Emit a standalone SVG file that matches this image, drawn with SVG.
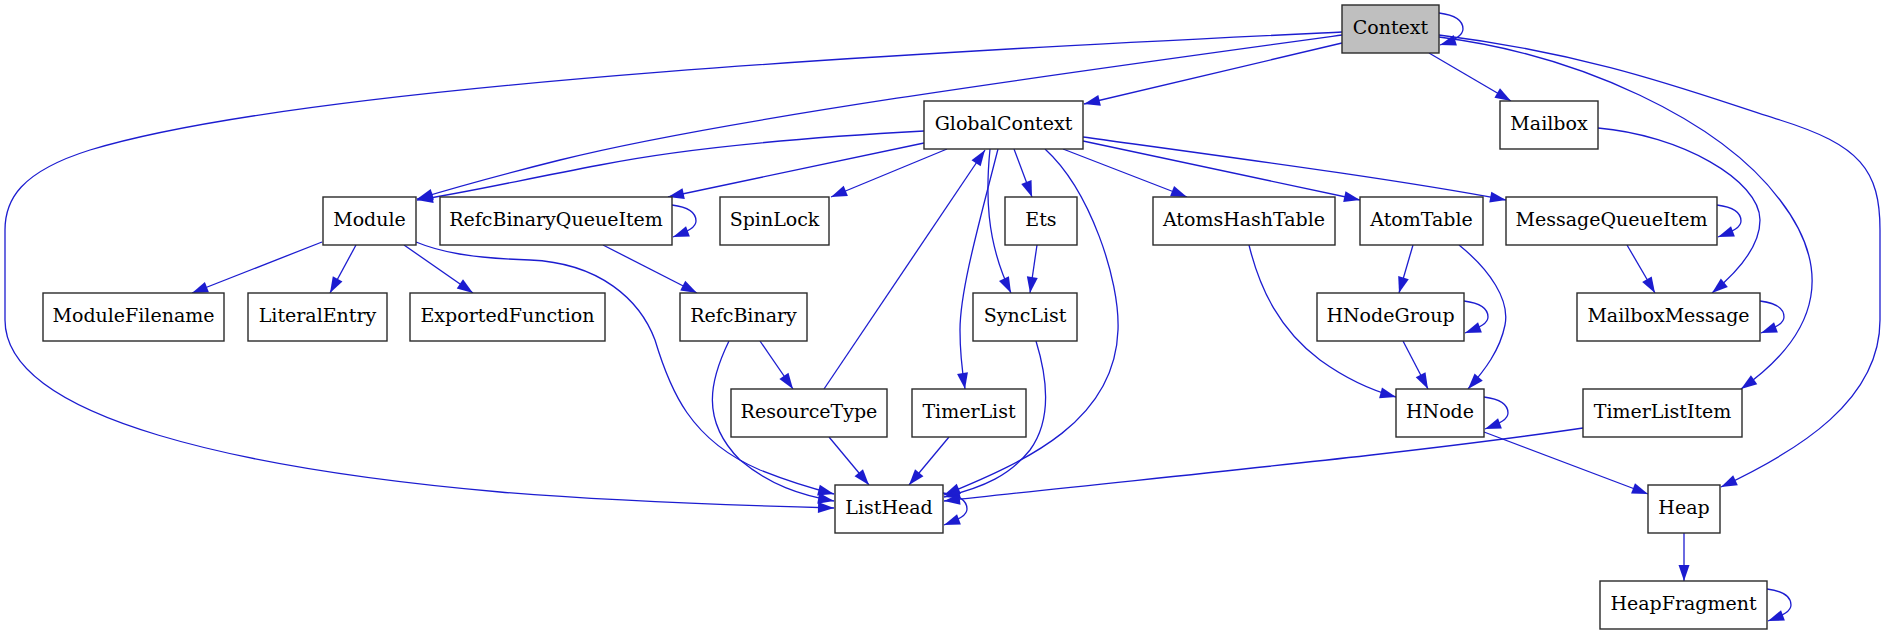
<svg xmlns="http://www.w3.org/2000/svg" width="1885" height="635" viewBox="0 0 1885 635">
<style>
.n rect{fill:#ffffff;stroke:#2a2a2a;stroke-width:1.4}
.n.root rect{fill:#bfbfbf}
.n text{font-family:"DejaVu Serif","Liberation Serif",serif;font-size:19px;fill:#000;text-anchor:middle}
#edges path{fill:none;stroke:#1c1cd0;stroke-width:1.3;marker-end:url(#ah)}
</style>
<defs>
<marker id="ah" markerUnits="userSpaceOnUse" markerWidth="17" markerHeight="12" refX="16" refY="5.5" orient="auto" overflow="visible">
<path d="M0,0 L16,5.5 L0,11 z" fill="#1c1cd0"/>
</marker>
</defs>
<rect width="1885" height="635" fill="#ffffff"/>
<g id="edges">
<!-- Context -->
<path d="M1439,13 C1455,15 1463,21 1463,29 C1463,35 1456,40 1440,45"/>
<path d="M1342,43 L1084,104"/>
<path d="M1342,35 C1050,75 720,120 560,160 C500,175 460,186 417,199"/>
<path d="M1342,32 C1010,48 320,80 90,150 C20,172 5,200 5,230 L5,320 C5,420 250,470 500,492 C620,502 760,506 834,508"/>
<path d="M1429,53 L1511,101"/>
<path d="M1439,37 C1580,55 1720,120 1780,200 C1830,265 1825,330 1741,389"/>
<path d="M1439,35 C1600,55 1700,95 1780,120 C1860,145 1880,170 1880,230 L1880,320 C1880,400 1800,450 1721,487"/>
<!-- GlobalContext -->
<path d="M924,131 C850,135 700,145 600,165 C520,180 470,192 417,200"/>
<path d="M924,143 L668,197"/>
<path d="M947,149 L831,197"/>
<path d="M1014,149 L1032,197"/>
<path d="M990,149 C986,190 985,240 1011,293"/>
<path d="M998,149 C980,220 960,290 960,330 C960,350 962,370 965,389"/>
<path d="M1045,149 C1090,190 1120,280 1118,330 C1115,420 1030,460 944,495"/>
<path d="M1063,149 L1187,197"/>
<path d="M1083,141 L1360,200"/>
<path d="M1083,137 C1250,160 1400,180 1506,200"/>
<!-- Module -->
<path d="M322,242 L192,293"/>
<path d="M356,245 L330,293"/>
<path d="M404,245 L473,293"/>
<path d="M416,242 C440,252 470,258 530,260 C600,263 640,300 655,340 C670,390 690,440 760,470 C790,482 810,488 834,494"/>
<!-- RefcBinaryQueueItem -->
<path d="M672,205 C688,207 696,213 696,221 C696,227 689,231 673,237"/>
<path d="M603,245 L697,293"/>
<!-- RefcBinary -->
<path d="M760,341 L793,389"/>
<path d="M729,341 C710,380 700,420 740,460 C770,485 800,495 834,501"/>
<!-- ResourceType -->
<path d="M829,437 L869,485"/>
<path d="M824,389 L985,150"/>
<!-- TimerList -->
<path d="M949,437 L909,485"/>
<!-- Ets / SyncList -->
<path d="M1037,245 L1030,293"/>
<path d="M1036,341 C1048,380 1052,420 1030,450 C1010,475 985,487 944,497"/>
<!-- ListHead self -->
<path d="M943,493 C959,495 967,501 967,509 C967,515 960,519 944,525"/>
<!-- TimerListItem -->
<path d="M1583,428 C1400,455 1150,478 944,501"/>
<!-- Mailbox / MessageQueueItem / MailboxMessage -->
<path d="M1598,128 C1680,135 1760,180 1760,220 C1760,245 1740,270 1712,293"/>
<path d="M1717,205 C1733,207 1741,213 1741,221 C1741,227 1734,231 1718,237"/>
<path d="M1627,245 L1655,293"/>
<path d="M1760,301 C1776,303 1784,309 1784,317 C1784,323 1777,327 1761,333"/>
<!-- AtomsHashTable / AtomTable / HNodeGroup / HNode -->
<path d="M1249,245 C1260,290 1280,330 1320,360 C1345,378 1370,390 1396,397"/>
<path d="M1413,245 L1399,293"/>
<path d="M1459,245 C1490,270 1510,300 1505,325 C1500,350 1485,370 1468,389"/>
<path d="M1464,301 C1480,303 1488,309 1488,317 C1488,323 1481,327 1465,333"/>
<path d="M1403,341 L1428,389"/>
<path d="M1484,397 C1500,399 1508,405 1508,413 C1508,419 1501,423 1485,429"/>
<path d="M1484,432 L1648,494"/>
<!-- Heap -->
<path d="M1684,533 L1684,581"/>
<path d="M1767,589 C1783,591 1791,597 1791,605 C1791,611 1784,615 1768,621"/>
</g>
<g id="Context" class="n root"><rect x="1342" y="5" width="97" height="48"/><text x="1390.5" y="34">Context</text></g>
<g id="GlobalContext" class="n"><rect x="924" y="101" width="159" height="48"/><text x="1003.5" y="130">GlobalContext</text></g>
<g id="Mailbox" class="n"><rect x="1500" y="101" width="98" height="48"/><text x="1549" y="130">Mailbox</text></g>
<g id="Module" class="n"><rect x="323" y="197" width="93" height="48"/><text x="369.5" y="226">Module</text></g>
<g id="RefcBinaryQueueItem" class="n"><rect x="440" y="197" width="232" height="48"/><text x="556" y="226">RefcBinaryQueueItem</text></g>
<g id="SpinLock" class="n"><rect x="720" y="197" width="109" height="48"/><text x="774.5" y="226">SpinLock</text></g>
<g id="Ets" class="n"><rect x="1005" y="197" width="72" height="48"/><text x="1041" y="226">Ets</text></g>
<g id="AtomsHashTable" class="n"><rect x="1153" y="197" width="182" height="48"/><text x="1244" y="226">AtomsHashTable</text></g>
<g id="AtomTable" class="n"><rect x="1360" y="197" width="123" height="48"/><text x="1421.5" y="226">AtomTable</text></g>
<g id="MessageQueueItem" class="n"><rect x="1506" y="197" width="211" height="48"/><text x="1611.5" y="226">MessageQueueItem</text></g>
<g id="ModuleFilename" class="n"><rect x="43" y="293" width="181" height="48"/><text x="133.5" y="322">ModuleFilename</text></g>
<g id="LiteralEntry" class="n"><rect x="248" y="293" width="139" height="48"/><text x="317.5" y="322">LiteralEntry</text></g>
<g id="ExportedFunction" class="n"><rect x="410" y="293" width="195" height="48"/><text x="507.5" y="322">ExportedFunction</text></g>
<g id="RefcBinary" class="n"><rect x="680" y="293" width="127" height="48"/><text x="743.5" y="322">RefcBinary</text></g>
<g id="SyncList" class="n"><rect x="973" y="293" width="104" height="48"/><text x="1025" y="322">SyncList</text></g>
<g id="HNodeGroup" class="n"><rect x="1317" y="293" width="147" height="48"/><text x="1390.5" y="322">HNodeGroup</text></g>
<g id="MailboxMessage" class="n"><rect x="1577" y="293" width="183" height="48"/><text x="1668.5" y="322">MailboxMessage</text></g>
<g id="ResourceType" class="n"><rect x="731" y="389" width="156" height="48"/><text x="809" y="418">ResourceType</text></g>
<g id="TimerList" class="n"><rect x="912" y="389" width="114" height="48"/><text x="969" y="418">TimerList</text></g>
<g id="HNode" class="n"><rect x="1396" y="389" width="88" height="48"/><text x="1440" y="418">HNode</text></g>
<g id="TimerListItem" class="n"><rect x="1583" y="389" width="159" height="48"/><text x="1662.5" y="418">TimerListItem</text></g>
<g id="ListHead" class="n"><rect x="835" y="485" width="108" height="48"/><text x="889" y="514">ListHead</text></g>
<g id="Heap" class="n"><rect x="1648" y="485" width="72" height="48"/><text x="1684" y="514">Heap</text></g>
<g id="HeapFragment" class="n"><rect x="1600" y="581" width="167" height="48"/><text x="1683.5" y="610">HeapFragment</text></g>
</svg>
